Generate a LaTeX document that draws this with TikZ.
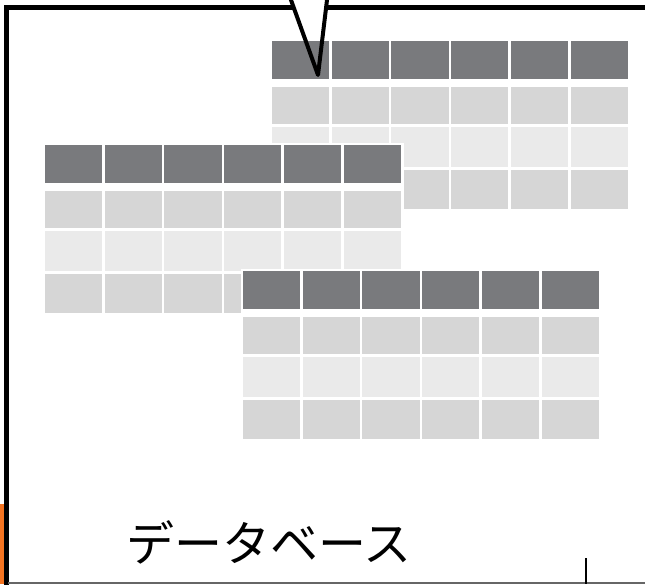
\documentclass[tikz,border=0pt]{standalone}
\usepackage{fontspec}
\newfontfamily\jpfont{Noto Sans CJK JP}
\usepackage{xcolor}
\definecolor{headgrey}{HTML}{797A7D}
\definecolor{rowdark}{HTML}{D6D6D6}
\definecolor{rowlight}{HTML}{EAEAEA}
\definecolor{edgeorange}{HTML}{F47421}

\tikzset{
  headcell/.style={fill=headgrey},
  bodycell/.style={fill=#1},
  frameline/.style={black, line width=4.5pt},
  pointerline/.style={black, line width=4pt, line cap=round, line join=round}
}

\begin{document}
\begin{tikzpicture}[x=1pt,y=-1pt]
    \useasboundingbox (0,0) rectangle (645,584);
    \clip (0,0) rectangle (645,584);
    % left strip and frame
    \fill[edgeorange] (0,504) rectangle (4.5,584);
    \draw[frameline] (6.5,590) -- (6.5,7.5) -- (293.5,7.5);
    \draw[frameline] (326,7.5) -- (650,7.5);
    \draw[gray!80!black, line width=1.5pt] (8,583) -- (650,583);
    \draw[black, line width=1.7pt] (586,558) -- (586,584);
    % the three tables
    \foreach \tx/\ty in {272/41, 45/145, 243/271} {
        \fill[white] (\tx-2.5,\ty-2.5) rectangle ++(361,173);
        \foreach \c in {0,...,5} {
            \fill[headcell] (\tx+\c*59.7,\ty) rectangle ++(57.3,37.5);
            \fill[bodycell=rowdark] (\tx+\c*59.7,\ty+46) rectangle ++(57.3,37);
            \fill[bodycell=rowlight] (\tx+\c*59.7,\ty+86) rectangle ++(57.3,39.5);
            \fill[bodycell=rowdark] (\tx+\c*59.7,\ty+128.5) rectangle ++(57.3,39.5);
        }
    }
    % pointer
    \coordinate (tip) at (318,75);
    \coordinate (pl) at (287.4,-10);
    \coordinate (pr) at (328.2,-10);
    \draw[pointerline] (pl) -- (tip) -- (pr);
    \node (label) at (269,542) {\jpfont\fontsize{48}{52}\selectfont データベース};
\end{tikzpicture}
\end{document}
